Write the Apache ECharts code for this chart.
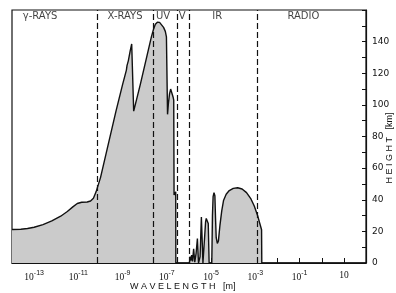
<!DOCTYPE html>
<html>
<head>
<meta charset="utf-8">
<script src="https://cdn.jsdelivr.net/npm/echarts@6/dist/echarts.min.js"></script>
<style>
  html, body { margin: 0; padding: 0; background: #fff; }
  #chart { width: 396px; height: 293px; }
</style>
</head>
<body>
<div id="chart"></div>
<script>
// Absorption height vs wavelength (x in log10 of metres)
var logWavelength = [
  -14.0, -13.6, -13.3, -13.0, -12.6, -12.2, -11.8, -11.5, -11.25, -11.05,
  -10.85, -10.6, -10.45, -10.32, -10.2, -10.0, -9.7, -9.3, -9.0, -8.83,
  -8.80, -8.78, -8.74, -8.66, -8.59, -8.50, -8.2, -7.9, -7.7, -7.6,
  -7.52, -7.43, -7.33, -7.24, -7.15, -7.07, -7.02, -6.97, -6.93, -6.88,
  -6.83, -6.78, -6.72, -6.69, -6.675, -6.60, -6.595, -5.98,
  -5.95, -5.92, -5.88, -5.84, -5.79, -5.74, -5.68, -5.62, -5.57, -5.50,
  -5.44, -5.37, -5.28, -5.25, -5.22, -5.16, -5.13, -5.09, -4.97, -4.94,
  -4.91, -4.87, -4.83, -4.80, -4.77, -4.72, -4.67, -4.60, -4.52, -4.44,
  -4.32, -4.18, -4.0, -3.8, -3.6, -3.4, -3.2, -3.05, -2.9, -2.8,
  -2.72, -2.71, 2.0
];
var heightKm = [
  21.2, 21.3, 21.8, 22.6, 24.3, 26.6, 29.6, 32.6, 35.5, 37.6,
  38.4, 38.6, 39.2, 41, 45, 54, 72, 96, 113, 122,
  125, 124, 128, 134, 138.5, 96, 113, 131, 143, 148,
  151, 152.3, 152.2, 151, 149, 146.5, 143, 94, 101, 107,
  110, 109, 105, 103, 43, 45, 0, 0,
  4, 1.5, 5, 1, 9, 0.5, 6, 15.5, 0, 4,
  29, 0, 0, 26, 28.2, 28.2, 25, 0, 0, 30,
  42, 44.5, 42.5, 28, 16, 12.4, 14, 24, 33, 39.5,
  43.5, 45.8, 47.2, 47.6, 46.8, 44.5, 40.5, 36, 30, 25,
  21, 0, 0
];

// Region boundaries (dashed lines) and names
var boundaries = [-10.15, -7.61, -6.55, -5.98, -2.9];
var regionNames = ['γ-RAYS', 'X-RAYS', 'UV', 'V', 'IR', 'RADIO'];
var regionLabelX = [-12.73, -8.89, -7.17, -6.31, -4.72, -0.83];
var regionLabelY = 156;

var curve = logWavelength.map(function(x, i) { return [x, heightKm[i]]; });

var labelData = regionNames.map(function(name, i) {
  return { name: name, value: [regionLabelX[i], regionLabelY] };
});

var myChart = echarts.init(document.getElementById('chart'));

var chartOptions = {
  animation: false,
  backgroundColor: '#fff',
  grid: {
    left: 12, right: 30, top: 10, bottom: 30,
    show: true, borderColor: '#111', borderWidth: 1.2
  },
  xAxis: {
    type: 'value',
    min: -14, max: 2, interval: 1,
    axisLine: { show: true, onZero: false, lineStyle: { color: '#111', width: 1.2 } },
    axisTick: { inside: true, length: 5, lineStyle: { color: '#111' } },
    splitLine: { show: false },
    axisLabel: {
      margin: 7,
      color: '#111',
      fontFamily: 'Liberation Sans Narrow',
      fontSize: 9.5,
      formatter: function(v) {
        if (Math.abs(v % 2) !== 1) return '';
        if (v === 1) return '10';
        return '10{s|' + v + '}';
      },
      rich: {
        s: { fontSize: 7, fontFamily: 'Liberation Sans', padding: [0, 0, 7, 0] }
      }
    }
  },
  yAxis: {
    type: 'value',
    position: 'right',
    min: 0, max: 160, interval: 10,
    axisLine: { show: true, onZero: false, lineStyle: { color: '#111', width: 1.2 } },
    axisTick: { inside: true, length: 4, lineStyle: { color: '#111' } },
    splitLine: { show: false },
    axisLabel: {
      margin: 6,
      color: '#111',
      fontFamily: 'DejaVu Sans',
      fontSize: 9,
      formatter: function(v) {
        return (v % 20 === 0 && v <= 140) ? String(v) : '';
      }
    }
  },
  graphic: [
    {
      type: 'text', left: 130, top: 282,
      style: { text: 'W A V E L E N G T H   [m]', fontFamily: 'Liberation Sans', fontSize: 9, fill: '#111' }
    },
    {
      // reads bottom to top
      type: 'text', x: 390, y: 148, rotation: Math.PI / 2,
      style: { text: 'H E I G H T   [km]', fontFamily: 'Liberation Sans', fontSize: 9, fill: '#111',
               align: 'center', verticalAlign: 'middle' }
    }
  ],
  series: [
    {
      type: 'line',
      data: curve,
      showSymbol: false,
      lineStyle: { color: '#111', width: 1.4 },
      areaStyle: { color: '#cbcbcb', opacity: 1 },
      markLine: {
        silent: true,
        symbol: 'none',
        label: { show: false },
        lineStyle: { color: '#111', type: [6, 3], width: 1.2 },
        data: boundaries.map(function(b) { return { xAxis: b }; })
      }
    },
    {
      type: 'scatter',
      data: labelData,
      symbolSize: 1,
      itemStyle: { color: 'transparent' },
      label: {
        show: true, position: 'inside', formatter: '{b}',
        color: '#111', fontFamily: 'DejaVu Sans', fontSize: 10
      }
    }
  ]
};

myChart.setOption(chartOptions);
</script>
</body>
</html>
